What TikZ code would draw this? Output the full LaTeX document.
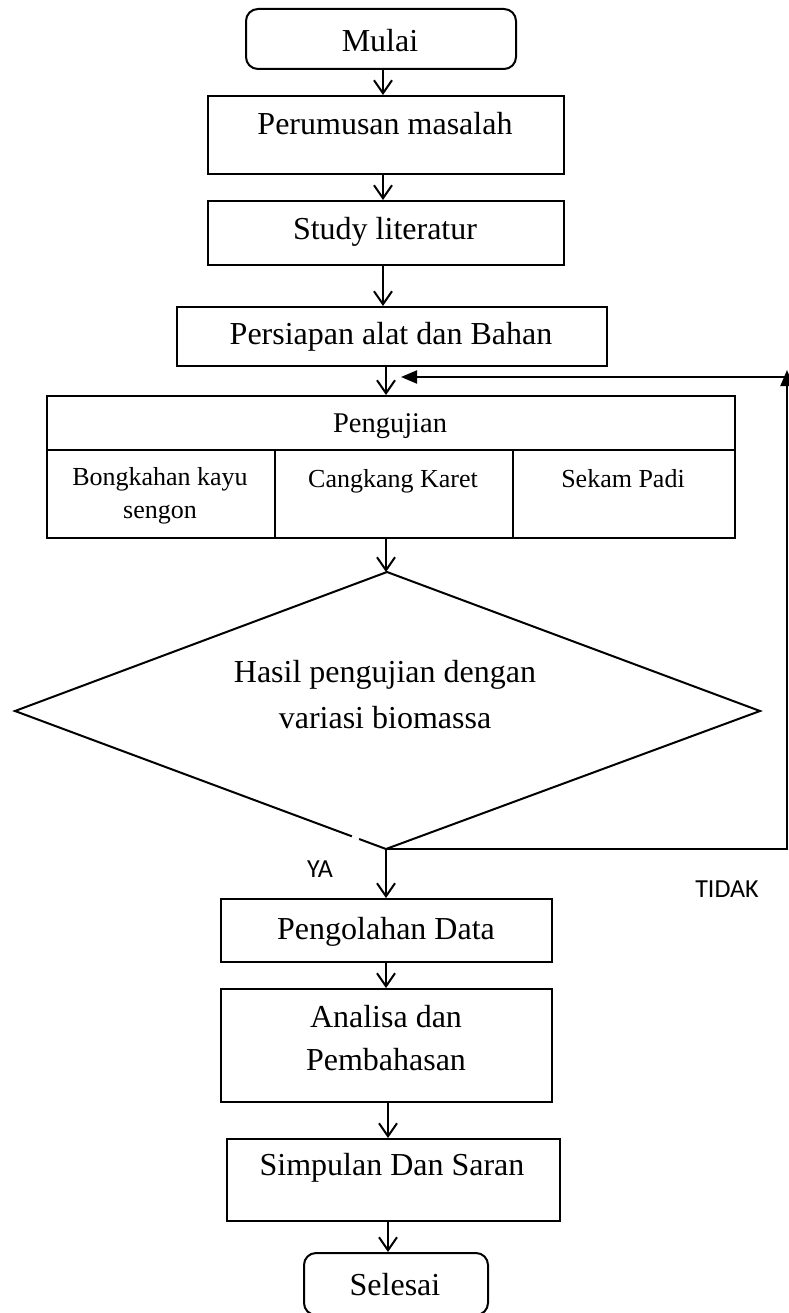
\documentclass[tikz,border=0pt]{standalone}
\usepackage{fontspec}
\setmainfont{Liberation Serif}
\newfontfamily\sansf{Carlito}
\usetikzlibrary{arrows.meta}
\begin{document}
\begin{tikzpicture}[x=1pt,y=-1pt,
  box/.style={draw, line width=2pt, inner sep=0pt, anchor=north west},
  rbox/.style={box, rounded corners=12pt},
  txt/.style={inner sep=0pt, anchor=base, font=\fontsize{32}{38}\selectfont},
  ptxt/.style={inner sep=0pt, anchor=base, font=\fontsize{28.5}{34}\selectfont},
  ctxt/.style={inner sep=0pt, anchor=base, font=\fontsize{26}{31}\selectfont},
  stxt/.style={inner sep=0pt, anchor=base, font=\sansf\fontsize{26}{31}\selectfont},
  arr/.style={line width=2pt, -{Straight Barb[length=13pt,width=18pt]}},
  fbarr/.style={line width=2pt, -{Triangle[length=16pt,width=13pt]}}
]
\useasboundingbox (0,0) rectangle (788,1313);

% column coordinates for the vertical connectors
\coordinate (colA) at (383,0);
\coordinate (colB) at (386,0);
\coordinate (colC) at (388,0);

% boxes
\node[rbox, minimum width=270pt, minimum height=60pt] (mulai) at (245,8) {};
\node[txt] (tmulai) at (380,52) {Mulai};

\node[box, minimum width=356pt, minimum height=78pt] (perumusan) at (207,95) {};
\node[txt] (tperumusan) at (385,135) {Perumusan masalah};

\node[box, minimum width=356pt, minimum height=64pt] (study) at (207,200) {};
\node[txt] (tstudy) at (385,240) {Study literatur};

\node[box, minimum width=430pt, minimum height=59pt] (persiapan) at (176,306) {};
\node[txt] (tpersiapan) at (391,344) {Persiapan alat dan Bahan};

% table
\node[box, minimum width=688pt, minimum height=54pt] (pengujian) at (46,395) {};
\node[ptxt] (tpengujian) at (390,432) {Pengujian};
\node[box, minimum width=228pt, minimum height=88pt] (cell1) at (46,449) {};
\node[box, minimum width=238pt, minimum height=88pt] (cell2) at (274,449) {};
\node[box, minimum width=222pt, minimum height=88pt] (cell3) at (512,449) {};
\node[ctxt] (tc1a) at (160,485) {Bongkahan kayu};
\node[ctxt] (tc1b) at (160,518) {sengon};
\node[ctxt] (tc2) at (393,487) {Cangkang Karet};
\node[ctxt] (tc3) at (623,487) {Sekam Padi};

% decision
\coordinate (dT) at (387,572);
\coordinate (dL) at (15,711);
\coordinate (dR) at (760,711);
\coordinate (dB) at (386,849);
\draw[line width=2pt, line join=miter] (dT) -- (dR) -- (dB) -- (dL) -- cycle;
\draw[white, line width=3pt] (352,836.3) -- (359,838.9);
\node[txt] (tdia1) at (385,682) {Hasil pengujian dengan};
\node[txt] (tdia2) at (385,728) {variasi biomassa};

\node[stxt] (ya) at (320,877) {YA};
\node[stxt] (tidak) at (727,897) {TIDAK};

\node[box, minimum width=331pt, minimum height=63pt] (pengolahan) at (220,898) {};
\node[txt] (tpengolahan) at (386,939) {Pengolahan Data};

\node[box, minimum width=331pt, minimum height=113pt] (analisa) at (220,988) {};
\node[txt] (tanalisa1) at (386,1027) {Analisa dan};
\node[txt] (tanalisa2) at (386,1070) {Pembahasan};

\node[box, minimum width=333pt, minimum height=82pt] (simpulan) at (226,1138) {};
\node[txt] (tsimpulan) at (392,1175) {Simpulan Dan Saran};

\node[rbox, minimum width=184pt, minimum height=62pt] (selesai) at (303,1252) {};
\node[txt] (tselesai) at (395,1295) {Selesai};

% connectors
\draw[arr] (mulai.south -| colA) -- (perumusan.north -| colA);
\draw[arr] (perumusan.south -| colA) -- (study.north -| colA);
\draw[arr] (study.south -| colA) -- (persiapan.north -| colA);
\draw[arr] (persiapan.south -| colB) -- (pengujian.north -| colB);
\draw[arr] (cell2.south -| colB) -- (dT -| colB);
\draw[arr] (dB) -- (pengolahan.north -| dB);
\draw[arr] (pengolahan.south -| colB) -- (analisa.north -| colB);
\draw[arr] (analisa.south -| colC) -- (simpulan.north -| colC);
\draw[arr] (simpulan.south -| colC) -- (selesai.north -| colC);

% feedback loop
\coordinate (fb1) at (787,849);
\coordinate (fb2) at (787,370);
\coordinate (fb3) at (786,377);
\coordinate (fb4) at (401,377);
\draw[fbarr] (dB) -- (fb1) -- (fb2);
\draw[fbarr] (fb3) -- (fb4);
\end{tikzpicture}
\end{document}
